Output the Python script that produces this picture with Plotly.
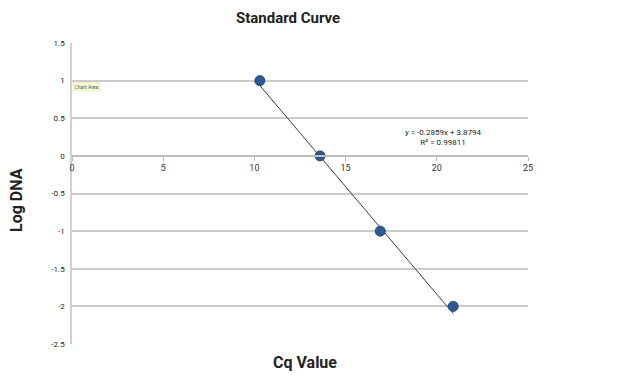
import plotly.graph_objects as go

cq_values = [10.3, 13.6, 16.9, 20.9]
log_dna = [1, 0, -1, -2]
slope = -0.2859
intercept = 3.8794
r_squared = 0.99811

x_ticks = [0, 5, 10, 15, 20, 25]
y_ticks = [1.5, 1, 0.5, 0, -0.5, -1, -1.5, -2, -2.5]

trend_x = [min(cq_values), max(cq_values)]
trend_y = [slope * v + intercept for v in trend_x]

FONT = "Liberation Sans Narrow, Roboto, Open Sans, sans-serif"

fig = go.Figure()
fig.add_trace(go.Scatter(x=trend_x, y=trend_y, mode="lines",
                         line=dict(color="#3a3a3a", width=1), hoverinfo="skip"))
fig.add_trace(go.Scatter(x=cq_values, y=log_dna, mode="markers",
                         marker=dict(color="#2f5a91", size=10,
                                     line=dict(color="#24497a", width=1))))

# page body has an 8px margin; compensate so the plot area lands at 72..528 x 43..344
fig.update_layout(
    width=621, height=381,
    margin=dict(l=64, r=101, t=35, b=45),
    paper_bgcolor="white", plot_bgcolor="white",
    showlegend=False,
    font=dict(family=FONT, size=9, color="#222"),
    xaxis=dict(range=[0, 25], tickvals=x_ticks, ticktext=[str(v) for v in x_ticks],
               showgrid=False, zeroline=False, anchor="free", position=0.625,
               showline=True, linecolor="#bdbdbd", linewidth=1.5,
               ticks="outside", ticklen=4, tickcolor="#bdbdbd",
               tickfont=dict(size=9, color="#333")),
    yaxis=dict(range=[-2.5, 1.5], tickvals=y_ticks,
               ticktext=[("%g" % v) for v in y_ticks],
               showgrid=True, gridcolor="#cccccc", gridwidth=1.5,
               zeroline=False, showline=True, linecolor="#d0d0d0", linewidth=1.5,
               ticks="", tickfont=dict(size=8, color="#222"), ticklabelstandoff=4),
)

def note(text, px, py, size, **kw):
    fig.add_annotation(text=text, xref="paper", yref="paper",
                       x=(px - 72) / 456, y=(344 - py) / 301,
                       xanchor=kw.pop("xanchor", "center"),
                       yanchor=kw.pop("yanchor", "middle"),
                       showarrow=False,
                       font=dict(family=FONT, size=size, color=kw.pop("color", "#222")),
                       **kw)

note("<b>Standard Curve</b>", 288, 18, 15)
note("<b>Cq Value</b>", 305, 362, 16)
note("<b>Log DNA</b>", 16, 200, 16, textangle=-90)
note(f"y = {slope}x + {intercept}<br>R² = {r_squared}", 443, 137, 8, align="center")
note("Chart Area", 73, 86, 5, xanchor="left", bgcolor="#fdfbd4",
     bordercolor="#e8e4a0", borderwidth=0.5, borderpad=1, color="#555")

fig.write_html("out.html")
